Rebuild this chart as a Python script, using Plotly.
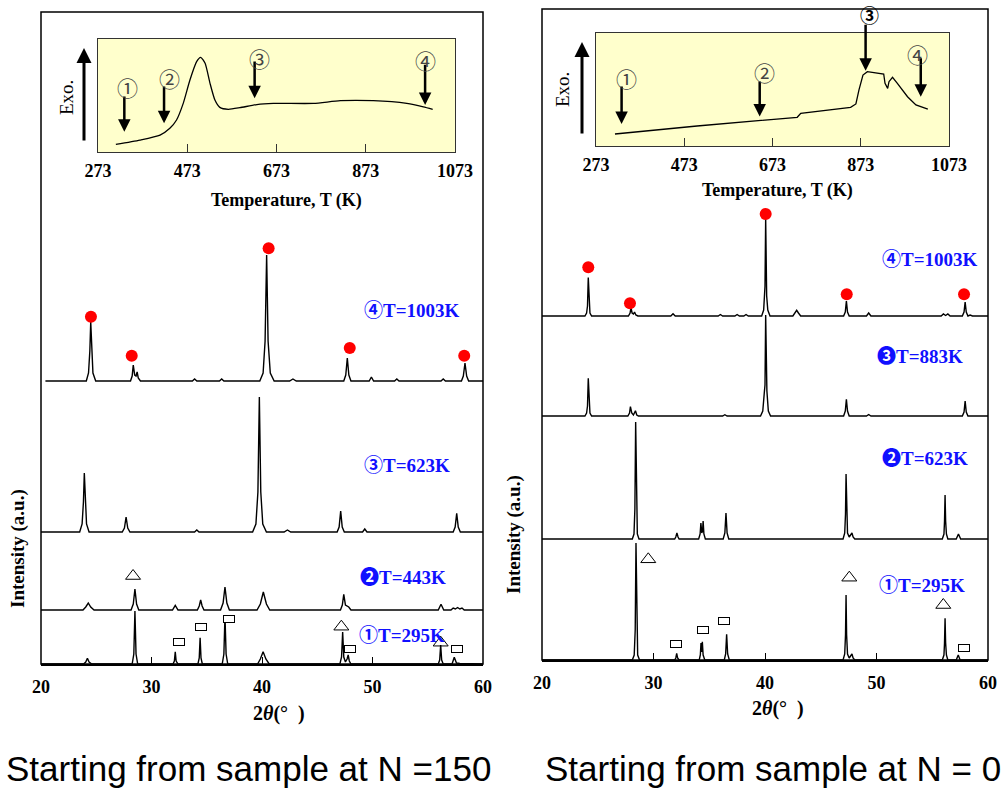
import plotly.graph_objects as go

W, H = 1005, 788

# ---------------- XRD patterns, start sample N = 150: (2θ [deg], intensity [a.u.]) ----------------
N150_295K = [(20, 0), (23.85, 0), (24.05, 2), (24.2, 5.7), (24.35, 2), (24.6, 0),
             (28.25, 0), (28.4, 10), (28.5, 53), (28.6, 10), (28.75, 0),
             (31.95, 0), (32.07, 3), (32.15, 12.3), (32.23, 3), (32.4, 0),
             (34.2, 0), (34.32, 6), (34.4, 26.3), (34.48, 6), (34.6, 0),
             (36.4, 0), (36.55, 10), (36.65, 48), (36.75, 10), (36.9, 0),
             (39.6, 0), (39.85, 5), (40.1, 12.3), (40.35, 5), (40.65, 0),
             (47.05, 0), (47.2, 7), (47.3, 32), (47.4, 7), (47.55, 2), (47.7, 5), (47.8, 9), (47.9, 3), (48.05, 0),
             (55.95, 0), (56.08, 4), (56.17, 19), (56.26, 4), (56.4, 0),
             (57.2, 0), (57.4, 6.7), (57.6, 1), (57.9, 0.5), (60, 0)]
N150_443K = [(20, 0), (23.8, 0), (24.05, 3), (24.28, 7), (24.5, 3), (24.8, 0),
             (28.15, 0), (28.35, 6), (28.5, 21), (28.65, 6), (28.85, 0),
             (31.9, 0), (32.15, 4.7), (32.4, 0),
             (34.15, 0), (34.32, 4), (34.45, 10), (34.58, 4), (34.75, 0),
             (36.25, 0), (36.48, 7), (36.65, 23), (36.82, 7), (37.05, 0),
             (39.55, 0), (39.85, 6), (40.12, 18), (40.4, 6), (40.7, 0),
             (47.1, 0), (47.27, 5), (47.4, 15.7), (47.55, 5), (47.7, 4), (47.85, 3), (48.05, 0),
             (55.95, 0), (56.2, 5.7), (56.45, 0),
             (57.1, 0), (57.3, 2), (57.5, 1), (57.7, 2.5), (57.9, 1), (58.1, 2), (58.3, 0), (60, 0)]
N150_623K = [(20, 0), (23.5, 0), (23.72, 8), (23.84, 30), (23.92, 59), (24.0, 30), (24.12, 8), (24.35, 0),
             (27.35, 0), (27.55, 4), (27.7, 15), (27.85, 4), (28.05, 0),
             (33.9, 0), (34.1, 2), (34.3, 0),
             (39.15, 0), (39.45, 8), (39.63, 40), (39.76, 135), (39.89, 40), (40.07, 8), (40.4, 0),
             (42.0, 0), (42.3, 2), (42.6, 0),
             (46.8, 0), (46.98, 5), (47.12, 21), (47.26, 5), (47.45, 0),
             (49.1, 0), (49.3, 3), (49.5, 0),
             (57.3, 0), (57.48, 5), (57.62, 18.6), (57.76, 5), (57.95, 0), (60, 0)]
N150_1003K = [(20.4, 0), (24.1, 0), (24.3, 8), (24.42, 30), (24.5, 59), (24.58, 30), (24.7, 8), (24.95, 0),
              (28.1, 0), (28.25, 5), (28.35, 16), (28.48, 6), (28.6, 5), (28.7, 9), (28.8, 3), (29.0, 0),
              (33.7, 0), (33.9, 2), (34.1, 0),
              (36.15, 0), (36.35, 2), (36.55, 0),
              (39.8, 0), (40.1, 8), (40.28, 40), (40.42, 126), (40.55, 40), (40.75, 8), (41.1, 0),
              (42.5, 0), (42.8, 2), (43.1, 0),
              (47.4, 0), (47.58, 6), (47.72, 23), (47.86, 6), (48.05, 0),
              (49.7, 0), (49.9, 4), (50.1, 0),
              (52.0, 0), (52.2, 2), (52.4, 0),
              (56.2, 0), (56.4, 2), (56.6, 0),
              (58.05, 0), (58.22, 5), (58.37, 18), (58.52, 5), (58.7, 0), (60, 0)]

# ---------------- XRD patterns, start sample N = 0 ----------------
N0_295K = [(20, 0), (28.1, 0), (28.27, 5), (28.36, 30), (28.43, 117), (28.5, 30), (28.58, 5), (28.75, 0),
           (31.9, 0), (32.0, 2), (32.08, 6.7), (32.16, 2), (32.3, 0),
           (34.1, 0), (34.2, 5), (34.26, 17), (34.32, 8), (34.38, 18.3), (34.45, 5), (34.6, 0),
           (36.35, 0), (36.47, 6), (36.56, 25.7), (36.65, 6), (36.8, 0),
           (47.0, 0), (47.15, 6), (47.22, 25), (47.27, 65), (47.32, 25), (47.4, 6), (47.55, 2), (47.7, 4), (47.8, 6), (47.9, 2), (48.05, 0),
           (55.9, 0), (56.05, 5), (56.1, 17), (56.15, 41.7), (56.2, 17), (56.27, 5), (56.4, 0),
           (57.15, 0), (57.33, 5), (57.5, 0), (60, 0)]
N0_623K = [(20, 0), (28.1, 0), (28.25, 5), (28.33, 30), (28.4, 117), (28.47, 30), (28.55, 5), (28.7, 0),
           (31.9, 0), (32.0, 2), (32.1, 6), (32.2, 2), (32.3, 0),
           (34.05, 0), (34.18, 5), (34.25, 16), (34.33, 6), (34.4, 8), (34.45, 18), (34.52, 5), (34.65, 0),
           (36.25, 0), (36.4, 6), (36.5, 26), (36.6, 6), (36.75, 0),
           (47.0, 0), (47.15, 6), (47.22, 25), (47.27, 65), (47.32, 25), (47.4, 6), (47.55, 2), (47.7, 4), (47.8, 6), (47.9, 2), (48.05, 0),
           (55.9, 0), (56.05, 5), (56.1, 18), (56.15, 44), (56.2, 18), (56.27, 5), (56.4, 0),
           (57.15, 0), (57.35, 5), (57.55, 0), (60, 0)]
N0_883K = [(20, 0), (23.85, 0), (24.0, 3), (24.08, 10), (24.15, 37.7), (24.22, 10), (24.3, 3), (24.45, 0),
           (27.7, 0), (27.85, 3), (27.93, 9.3), (28.05, 3), (28.2, 1), (28.38, 5.3), (28.5, 1), (28.65, 0),
           (36.2, 0), (36.4, 1.3), (36.6, 0),
           (39.6, 0), (39.8, 5), (39.95, 25), (40.0, 31), (40.06, 101), (40.12, 31), (40.17, 25), (40.3, 5), (40.5, 0),
           (47.05, 0), (47.2, 5), (47.3, 16.7), (47.4, 5), (47.55, 0),
           (49.1, 0), (49.3, 1.5), (49.5, 0),
           (57.7, 0), (57.85, 4), (57.95, 15), (58.05, 4), (58.2, 0), (60, 0)]
N0_1003K = [(20, 0), (23.85, 0), (24.0, 3), (24.08, 10), (24.15, 38.4), (24.22, 10), (24.3, 3), (24.45, 0),
            (27.75, 0), (27.9, 3), (27.98, 8.4), (28.08, 3), (28.2, 2), (28.3, 4), (28.42, 1), (28.6, 0),
            (31.55, 0), (31.75, 2.3), (31.95, 0),
            (35.8, 0), (36.0, 1.5), (36.2, 0), (37.3, 0), (37.5, 1.5), (37.7, 0), (38.1, 0), (38.3, 1.5), (38.5, 0),
            (39.7, 0), (39.88, 6), (39.97, 20), (40.0, 30), (40.06, 97.4), (40.12, 30), (40.15, 20), (40.25, 6), (40.45, 0),
            (42.5, 0), (42.7, 4), (42.84, 5.7), (43.0, 3), (43.2, 0),
            (47.05, 0), (47.2, 4), (47.3, 15), (47.4, 4), (47.55, 0),
            (49.1, 0), (49.3, 3), (49.5, 0),
            (55.8, 0), (56.0, 2), (56.2, 0.5), (56.4, 2), (56.6, 0),
            (57.7, 0), (57.85, 4), (57.95, 14), (58.05, 4), (58.2, 0), (58.4, 1), (58.6, 0), (60, 0)]

# curve labels (circled step number + annealing temperature), bottom to top
N150_STEP = ["①", "❷", "③", "④"]
N150_TEMP = ["T=295K", "T=443K", "T=623K", "T=1003K"]
N0_STEP = ["①", "❷", "❸", "④"]
N0_TEMP = ["T=295K", "T=623K", "T=883K", "T=1003K"]

# phase marks: (curve index, 2θ, intensity level above that curve's baseline)
N150_TRIANGLES = [(0, 47.18, 37.3), (0, 56.17, 21.3), (1, 28.33, 34)]
N150_SQUARES = [(0, 32.46, 22.3), (0, 34.48, 37), (0, 37.0, 44.7), (0, 47.96, 14.7), (0, 57.62, 14.7)]
N150_DOTS = [(3, 24.52, 64.3), (3, 28.21, 25.3), (3, 40.6, 132.7), (3, 47.94, 33), (3, 58.3, 25.3)]
N0_TRIANGLES = [(0, 29.53, 100.7), (0, 47.56, 82.3), (0, 55.99, 55)]
N0_SQUARES = [(0, 32.02, 16), (0, 34.47, 30), (0, 36.35, 39), (0, 57.85, 11.7)]
N0_DOTS = [(3, 24.15, 48.7), (3, 27.89, 12.7), (3, 40.06, 102), (3, 47.33, 21.7), (3, 57.85, 21.7)]

# ---------------- DSC traces (temperature [K], heat flow, arbitrary units) ----------------
DSC_N150_T = [313, 367, 412, 434, 449, 464, 479, 494, 503, 513, 524, 535, 546, 565, 591, 629, 666, 756, 816, 890, 965, 1002, 1023]
DSC_N150_V = [0.068, 0.106, 0.15, 0.21, 0.283, 0.43, 0.637, 0.80, 0.838, 0.785, 0.608, 0.46, 0.395, 0.378, 0.392, 0.42, 0.43, 0.43, 0.454, 0.454, 0.43, 0.40, 0.378]
DSC_N0_T = [316, 502, 729, 737, 850, 862, 869, 878, 888, 911, 925, 928, 934, 937, 945, 956, 979, 998, 1025]
DSC_N0_V = [0.106, 0.177, 0.254, 0.289, 0.342, 0.372, 0.496, 0.628, 0.658, 0.643, 0.637, 0.555, 0.51, 0.569, 0.608, 0.555, 0.436, 0.363, 0.327]

# sampling temperatures marked on the DSC traces
N150_ARROW_T = [332, 421, 624, 1006]
N150_ARROW_TIP = [0.18, 0.254, 0.475, 0.416]
N150_ARROW_TAIL = [0.504, 0.593, 0.814, 0.785]
N150_MARK_T = [339, 433, 634, 1006]
N150_MARK_V = [0.573, 0.652, 0.829, 0.814]
N0_ARROW_T = [331, 644, 884, 1009]
N0_ARROW_TIP = [0.195, 0.26, 0.666, 0.436]
N0_ARROW_TAIL = [0.54, 0.584, 1.086, 0.79]
N0_MARK_T = [343, 655, 892, 1002]
N0_MARK_V = [0.60, 0.658, 1.16, 0.814]
MARKS = ["①", "②", "③", "④"]

TEMP_TICKS = [273, 473, 673, 873, 1073]
TWO_THETA_TICKS = [20, 30, 40, 50, 60]

# ---------------- layout constants ----------------
SERIF = "Liberation Serif, Times New Roman, serif"
CJK = "Noto Sans CJK JP, DejaVu Sans, sans-serif"
SANS = "Liberation Sans, Arial, sans-serif"
BLUE = "#1010ff"


def px(x):
    return x / W


def py(y):
    return 1 - y / H


def paper_text(x, y, text, font, angle=0):
    return dict(x=px(x), y=py(y), xref="paper", yref="paper", text=text, textangle=angle,
                xanchor="center", yanchor="middle", showarrow=False, font=font)


PANELS = [
    dict(xa="x", ya="y", xi="x3", yi="y3",
         frame=(41, 12, 483, 664), inset=(98, 39, 455, 152),
         curves=[N150_295K, N150_443K, N150_623K, N150_1003K],
         offsets=[0, 54, 132, 283],
         step=N150_STEP, temp=N150_TEMP,
         label_pos=[(52.64, 30.7), (52.76, 34.3), (53.1, 68.7), (53.57, 73)],
         tri=N150_TRIANGLES, sq=N150_SQUARES, dots=N150_DOTS,
         dsc=(DSC_N150_T, DSC_N150_V), dsc_shape="spline",
         arrows=(N150_ARROW_T, N150_ARROW_TIP, N150_ARROW_TAIL, N150_MARK_T, N150_MARK_V),
         exo_x=84, exo_top=48, exo_len=94, exo_label=(67, 98),
         ttitle=(286, 200), intensity=(18, 549), twotheta=(279, 713),
         caption="Starting from sample at N =150", caption_x=248),
    dict(xa="x2", ya="y2", xi="x4", yi="y4",
         frame=(542, 9, 988, 660), inset=(596, 33, 949, 146),
         curves=[N0_295K, N0_623K, N0_883K, N0_1003K],
         offsets=[0, 121, 244, 344],
         step=N0_STEP, temp=N0_TEMP,
         label_pos=[(54.05, 76.7), (54.35, 82.3), (53.9, 61), (54.8, 58)],
         tri=N0_TRIANGLES, sq=N0_SQUARES, dots=N0_DOTS,
         dsc=(DSC_N0_T, DSC_N0_V), dsc_shape="linear",
         arrows=(N0_ARROW_T, N0_ARROW_TIP, N0_ARROW_TAIL, N0_MARK_T, N0_MARK_V),
         exo_x=582, exo_top=42, exo_len=93, exo_label=(563, 90),
         ttitle=(777, 190), intensity=(514, 535), twotheta=(778, 708),
         caption="Starting from sample at N = 0", caption_x=773),
]

fig = go.Figure()
annotations = []
shapes = []
layout_axes = {}

for p in PANELS:
    xa, ya, xi, yi = p["xa"], p["ya"], p["xi"], p["yi"]
    fx0, fy0, fx1, fy1 = p["frame"]
    offs = p["offsets"]

    # stacked diffraction patterns
    for curve, off in zip(p["curves"], offs):
        fig.add_trace(go.Scatter(
            x=[c[0] for c in curve], y=[c[1] + off for c in curve],
            mode="lines", line=dict(color="black", width=1.4),
            xaxis=xa, yaxis=ya, hoverinfo="skip", cliponaxis=False))

    # red dots over the peaks of the high-temperature phase
    fig.add_trace(go.Scatter(
        x=[d[1] for d in p["dots"]], y=[d[2] + offs[d[0]] for d in p["dots"]],
        mode="markers", marker=dict(color="#ff0000", size=12, symbol="circle"),
        xaxis=xa, yaxis=ya, hoverinfo="skip", cliponaxis=False))
    # open triangles
    fig.add_trace(go.Scatter(
        x=[t[1] for t in p["tri"]], y=[t[2] + offs[t[0]] for t in p["tri"]],
        mode="markers",
        marker=dict(color="black", size=13, symbol="triangle-up-open", line=dict(width=1)),
        xaxis=xa, yaxis=ya, hoverinfo="skip", cliponaxis=False))
    # open rectangles
    for s in p["sq"]:
        annotations.append(dict(
            x=s[1], y=s[2] + offs[s[0]], xref=xa, yref=ya, text=" ", showarrow=False,
            xanchor="center", yanchor="middle",
            width=10, height=6, borderpad=0, bordercolor="black", borderwidth=1,
            bgcolor="white", font=dict(size=4)))

    # curve labels
    for (lx, ly), st, tt, off in zip(p["label_pos"], p["step"], p["temp"], offs):
        annotations.append(dict(
            x=lx, y=ly + off, xref=xa, yref=ya, showarrow=False, xanchor="center", yanchor="middle",
            text=f"<span style='font-family:{CJK}'>{st}</span>{tt}",
            font=dict(family=SERIF, size=19, color=BLUE, weight="bold")))

    # main axes
    layout_axes["xaxis" + xa[1:]] = dict(
        domain=[px(fx0), px(fx1)], range=[20, 60], anchor=ya, automargin=False,
        showgrid=False, zeroline=False, showline=True, linecolor="black", linewidth=1.5,
        ticks="inside", ticklen=7, tickwidth=1.2, tickcolor="black",
        tickvals=TWO_THETA_TICKS, ticklabelstandoff=6,
        tickfont=dict(family=SERIF, size=18, color="black", weight="bold"))
    layout_axes["yaxis" + ya[1:]] = dict(
        domain=[py(fy1), py(fy0)], range=[0, fy1 - fy0], anchor=xa, automargin=False,
        showgrid=False, zeroline=False, showline=False, showticklabels=False, ticks="")

    # panel frame
    shapes.append(dict(type="rect", xref="paper", yref="paper",
                       x0=px(fx0), x1=px(fx1), y0=py(fy1), y1=py(fy0),
                       line=dict(color="black", width=1.5), fillcolor="rgba(0,0,0,0)"))

    # DSC inset
    ix0, iy0, ix1, iy1 = p["inset"]
    shapes.append(dict(type="rect", xref=xi + " domain", yref=yi + " domain",
                       x0=0, x1=1, y0=0, y1=1, layer="below",
                       fillcolor="#ffffcc", line=dict(width=0)))
    tT, tV = p["dsc"]
    fig.add_trace(go.Scatter(
        x=tT, y=tV, mode="lines", line=dict(color="black", width=1.3, shape=p["dsc_shape"], smoothing=0.6),
        xaxis=xi, yaxis=yi, hoverinfo="skip", cliponaxis=False))
    layout_axes["xaxis" + xi[1:]] = dict(
        domain=[px(ix0), px(ix1)], range=[273, 1073], anchor=yi, automargin=False,
        showgrid=False, zeroline=False, showline=True, mirror=True, linecolor="#333", linewidth=1,
        ticks="inside", ticklen=8, tickcolor="#333", tickvals=TEMP_TICKS, ticklabelstandoff=2,
        tickfont=dict(family=SERIF, size=18, color="black", weight="bold"))
    layout_axes["yaxis" + yi[1:]] = dict(
        domain=[py(iy1), py(iy0)], range=[0, 1], anchor=xi, automargin=False,
        showgrid=False, zeroline=False, showline=True, mirror=True, linecolor="#333", linewidth=1,
        showticklabels=False, ticks="")

    aT, aTip, aTail, mT, mV = p["arrows"]
    for k in range(4):
        annotations.append(dict(
            x=aT[k], y=aTip[k], ax=aT[k], ay=aTail[k], xref=xi, yref=yi, axref=xi, ayref=yi,
            text="", showarrow=True, arrowhead=2, arrowsize=1, arrowwidth=2.5, arrowcolor="black"))
        bold_mark = (xa == "x2" and k == 2)
        # heat-flow axis spans 0..1, so the domain fraction equals the value
        annotations.append(dict(
            x=mT[k], y=mV[k], xref=xi, yref=yi + " domain", text=MARKS[k], showarrow=False,
            xanchor="center", yanchor="middle",
            font=dict(family=CJK, size=19 if bold_mark else 21,
                      color="black" if bold_mark else "#444",
                      weight="bold" if bold_mark else "normal")))

    # "Exo." direction arrow
    annotations.append(dict(
        x=px(p["exo_x"]), y=py(p["exo_top"]), xref="paper", yref="paper",
        ax=0, ay=p["exo_len"], axref="pixel", ayref="pixel",
        text="", showarrow=True, arrowhead=2, arrowsize=1, arrowwidth=3, arrowcolor="black"))
    ex, ey = p["exo_label"]
    annotations.append(paper_text(ex, ey, "Exo.", dict(family=SERIF, size=19, color="black"), -90))

    tx, ty = p["ttitle"]
    annotations.append(paper_text(tx, ty, "Temperature, T (K)",
                                  dict(family=SERIF, size=18, color="black", weight="bold")))
    ix, iy = p["intensity"]
    annotations.append(paper_text(ix, iy, "Intensity (a.u.)",
                                  dict(family=SERIF, size=19, color="black", weight="bold"), -90))
    gx, gy = p["twotheta"]
    annotations.append(paper_text(gx, gy, "2<i>θ</i>(°  )",
                                  dict(family=SERIF, size=20, color="black", weight="bold")))
    annotations.append(paper_text(p["caption_x"], 768, p["caption"],
                                  dict(family=SANS, size=35, color="black")))

fig.update_layout(
    template="none",
    width=W, height=H, margin=dict(l=0, r=0, t=0, b=0, pad=0, autoexpand=False),
    paper_bgcolor="white", plot_bgcolor="rgba(0,0,0,0)",
    showlegend=False, annotations=annotations, shapes=shapes, **layout_axes)

fig.write_html("out.html")
